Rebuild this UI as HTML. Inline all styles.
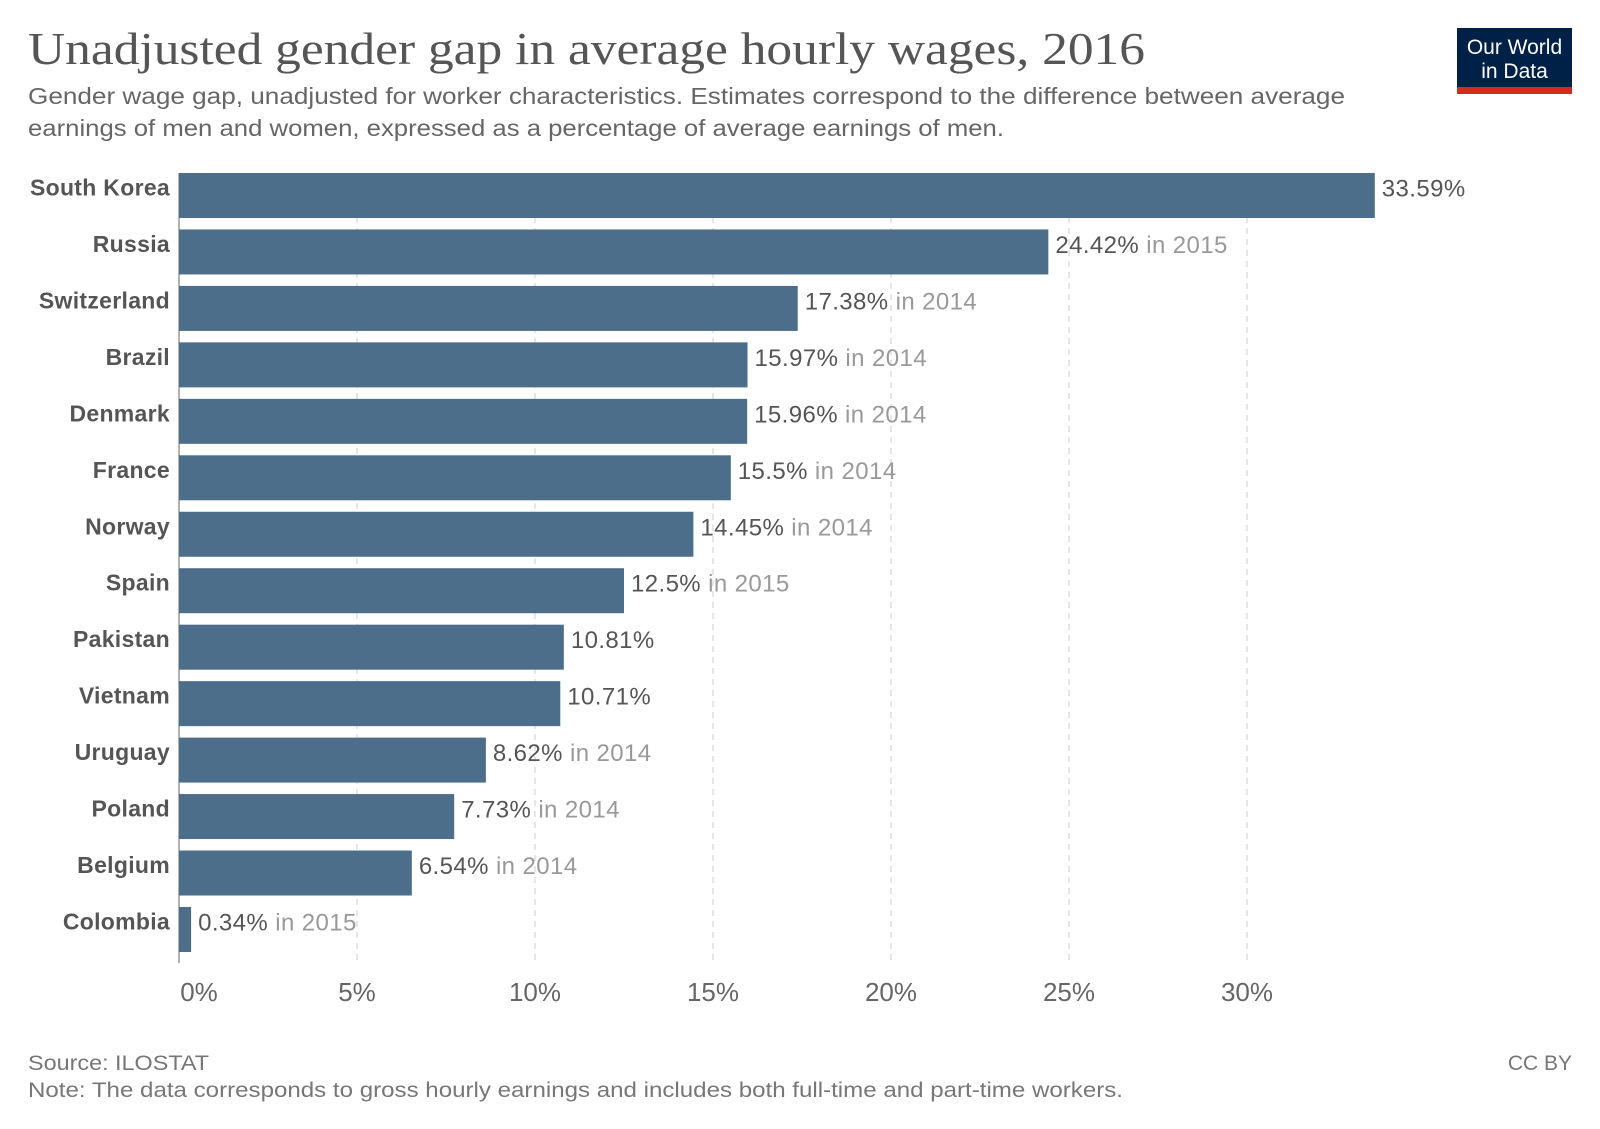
<!DOCTYPE html>
<html><head><meta charset="utf-8">
<style>
body{margin:0;background:#fff;}
svg{display:block;font-family:"Liberation Sans",sans-serif;}
</style></head>
<body>
<svg id="chart" width="1600" height="1129" viewBox="0 0 1600 1129">
<text x="28" y="64" font-family="Liberation Serif, serif" font-size="46" fill="#555" textLength="1117" lengthAdjust="spacingAndGlyphs">Unadjusted gender gap in average hourly wages, 2016</text>
<text x="28" y="104" font-size="23" fill="#666" textLength="1317" lengthAdjust="spacingAndGlyphs">Gender wage gap, unadjusted for worker characteristics. Estimates correspond to the difference between average</text>
<text x="28" y="136" font-size="23" fill="#666" textLength="976" lengthAdjust="spacingAndGlyphs">earnings of men and women, expressed as a percentage of average earnings of men.</text>
<g>
<rect x="1457" y="28" width="115" height="59" fill="#002147"/>
<rect x="1457" y="87" width="115" height="7" fill="#d42b21"/>
<text x="1514.5" y="54" font-size="21" fill="#fff" text-anchor="middle">Our World</text>
<text x="1514.5" y="78" font-size="21" fill="#fff" text-anchor="middle">in Data</text>
</g>
<g id="grid"></g>
<g id="bars"></g>
<g id="ticks"></g>
<text x="28" y="1070" font-size="21" fill="#777" textLength="181" lengthAdjust="spacingAndGlyphs">Source: ILOSTAT</text>
<text x="28" y="1097" font-size="21" fill="#777" textLength="1095" lengthAdjust="spacingAndGlyphs">Note: The data corresponds to gross hourly earnings and includes both full-time and part-time workers.</text>
<text x="1572" y="1070" font-size="21" fill="#777" text-anchor="end">CC BY</text>
</svg>
<script>
const countries=["South Korea","Russia","Switzerland","Brazil","Denmark","France","Norway","Spain","Pakistan","Vietnam","Uruguay","Poland","Belgium","Colombia"];
const values=[33.59,24.42,17.38,15.97,15.96,15.5,14.45,12.5,10.81,10.71,8.62,7.73,6.54,0.34];
const years=["","2015","2014","2014","2014","2014","2014","2015","","","2014","2014","2014","2015"];
const tickValues=[0,5,10,15,20,25,30];
const tickLabels=["0%","5%","10%","15%","20%","25%","30%"];
const NS="http://www.w3.org/2000/svg";
const x0=179,pxPer=35.6,y0=173,step=56.46,bh=45;
const xs=v=>x0+v*pxPer, ys=i=>y0+i*step;
function mk(tag,attrs,parent,txt){const e=document.createElementNS(NS,tag);for(const k in attrs)e.setAttribute(k,attrs[k]);if(txt!=null)e.textContent=txt;parent.appendChild(e);return e;}
const grid=document.getElementById('grid'),bars=document.getElementById('bars'),ticks=document.getElementById('ticks');
const bottom=ys(countries.length-1)+bh+11;
tickValues.forEach((t,i)=>{
 if(t>0){const l=mk('line',{x1:xs(t),x2:xs(t),y1:y0,y2:bottom,stroke:'#ddd','stroke-width':1.5,'stroke-dasharray':'6,5'},grid);
 
 }
 const tx=mk('text',{x:xs(t)+(t===0?20:0),y:1001,'font-size':26,fill:'#666','text-anchor':'middle'},ticks,tickLabels[i]);
 
 
});
const ax=mk('line',{x1:x0,x2:x0,y1:y0,y2:bottom,stroke:'#999','stroke-width':1.5},grid);


countries.forEach((c,i)=>{
 const y=ys(i);
 const r=mk('rect',{x:x0,y:y,width:xs(values[i])-x0,height:bh,fill:'#4c6e8a'},bars);
 
 
 const lb=mk('text',{x:170,y:y+bh/2+0,'font-size':23,'font-weight':'bold',fill:'#555','text-anchor':'end','letter-spacing':'0.3'},bars,c);
 
 
 const vt=mk('text',{x:xs(values[i])+7,y:y+bh/2+1,'font-size':24,fill:'#555','letter-spacing':'0.4'},bars);
 
 
 mk('tspan',{},vt,values[i]+'%');
 if(years[i]){mk('tspan',{fill:'#999'},vt,' in '+years[i]);}
});
</script>
</body></html>
